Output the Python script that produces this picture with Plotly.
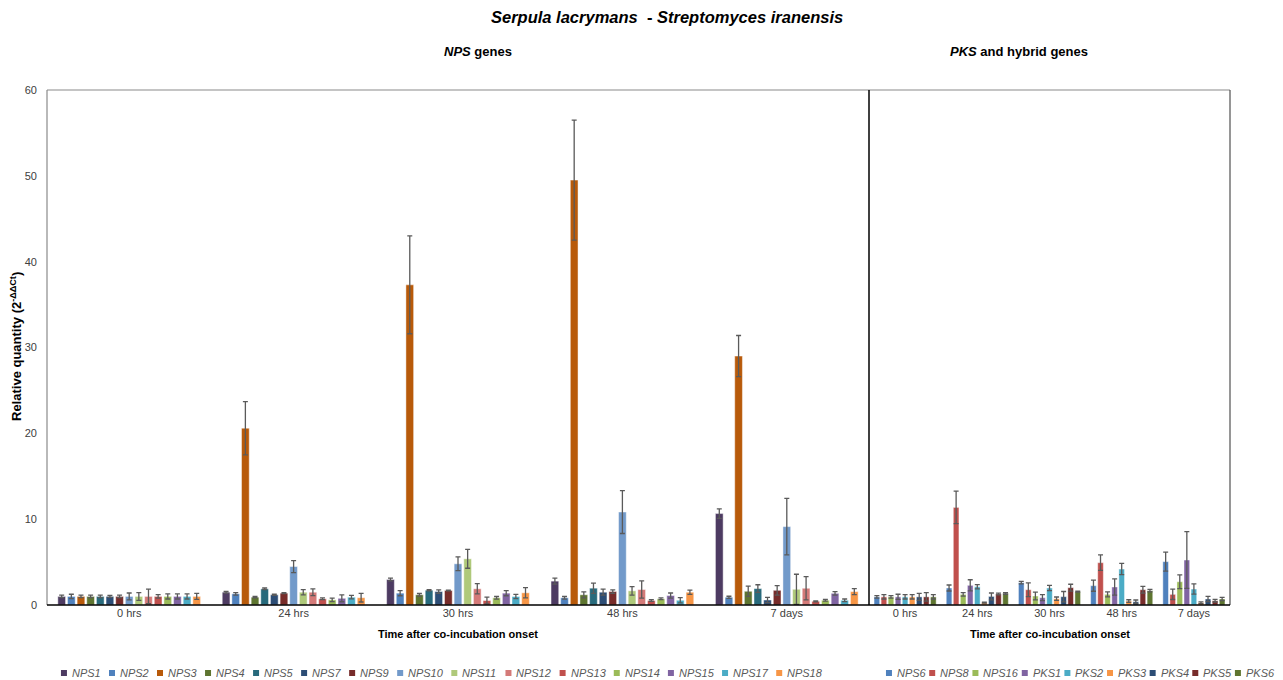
import plotly.graph_objects as go

# ---------------- data ----------------
times = ["0 hrs", "24 hrs", "30 hrs", "48 hrs", "7 days"]

nps_names = ["NPS1", "NPS2", "NPS3", "NPS4", "NPS5", "NPS7", "NPS9", "NPS10",
             "NPS11", "NPS12", "NPS13", "NPS14", "NPS15", "NPS17", "NPS18"]
nps_colors = ["#4D3B62", "#4F81BD", "#B85A0A", "#5E7530", "#276A7C", "#2C4D75",
              "#772C2A", "#729ACA", "#AFC97A", "#D47A78", "#C0504D", "#9BBB59",
              "#8064A2", "#4BACC6", "#F79646"]
nps_values = [
    [1.0, 1.49, 2.97, 2.78, 10.65],
    [1.0, 1.30, 1.38, 0.84, 0.90],
    [1.0, 20.6, 37.3, 49.5, 29.0],
    [1.0, 0.91, 1.19, 1.19, 1.60],
    [1.0, 1.88, 1.72, 1.96, 1.91],
    [1.0, 1.19, 1.57, 1.49, 0.58],
    [1.0, 1.38, 1.69, 1.57, 1.71],
    [1.0, 4.48, 4.80, 10.83, 9.13],
    [1.0, 1.49, 5.38, 1.65, 1.83],
    [1.0, 1.49, 1.89, 1.80, 1.95],
    [1.0, 0.72, 0.52, 0.52, 0.43],
    [1.0, 0.60, 0.84, 0.72, 0.55],
    [1.0, 0.78, 1.38, 1.10, 1.36],
    [1.0, 0.91, 0.99, 0.55, 0.55],
    [1.0, 0.85, 1.42, 1.49, 1.56],
]
nps_errors = [
    [0.15, 0.10, 0.17, 0.35, 0.55],
    [0.25, 0.15, 0.30, 0.15, 0.12],
    [0.15, 3.10, 5.70, 7.00, 2.40],
    [0.15, 0.08, 0.15, 0.35, 0.60],
    [0.15, 0.10, 0.08, 0.60, 0.45],
    [0.12, 0.06, 0.20, 0.35, 0.30],
    [0.15, 0.05, 0.05, 0.20, 0.55],
    [0.40, 0.70, 0.80, 2.50, 3.30],
    [0.45, 0.30, 1.10, 0.50, 1.75],
    [0.85, 0.40, 0.60, 1.00, 1.35],
    [0.20, 0.10, 0.40, 0.10, 0.05],
    [0.30, 0.20, 0.15, 0.10, 0.10],
    [0.30, 0.40, 0.30, 0.30, 0.20],
    [0.30, 0.20, 0.25, 0.30, 0.15],
    [0.35, 0.50, 0.60, 0.25, 0.35],
]

pks_names = ["NPS6", "NPS8", "NPS16", "PKS1", "PKS2", "PKS3", "PKS4", "PKS5", "PKS6"]
pks_colors = ["#4F81BD", "#C0504D", "#9BBB59", "#8064A2", "#4BACC6", "#F79646",
              "#2C4D75", "#772C2A", "#5E7530"]
pks_values = [
    [0.95, 1.98, 2.60, 2.25, 5.05],
    [0.95, 11.37, 1.78, 4.93, 1.24],
    [0.95, 1.24, 1.05, 1.24, 2.71],
    [0.95, 2.29, 0.85, 2.10, 5.24],
    [0.95, 2.13, 1.98, 4.19, 1.86],
    [0.95, 0.27, 0.73, 0.46, 0.27],
    [0.95, 1.00, 0.97, 0.38, 0.70],
    [0.95, 1.28, 2.02, 1.78, 0.50],
    [0.95, 1.35, 1.55, 1.67, 0.70],
]
pks_errors = [
    [0.15, 0.35, 0.15, 0.65, 1.10],
    [0.25, 1.90, 0.80, 0.90, 0.60],
    [0.15, 0.20, 0.45, 0.30, 0.80],
    [0.30, 0.65, 0.35, 0.95, 3.30],
    [0.25, 0.25, 0.30, 0.65, 0.60],
    [0.25, 0.05, 0.20, 0.15, 0.10],
    [0.40, 0.40, 0.60, 0.20, 0.30],
    [0.50, 0.10, 0.40, 0.40, 0.15],
    [0.25, 0.10, 0.05, 0.15, 0.20],
]

# ---------------- layout geometry (pixels) ----------------
W, H = 1283, 680
L, R, T, B = 47, 1230, 90, 605
DIV_PX = 869
FONT = "Liberation Sans, Arial, sans-serif"


def px2x(px):
    return (px - L) / (R - L)


def py2y(py):
    return (B - py) / (B - T)


div = px2x(DIV_PX)

fig = go.Figure()

err_style = dict(type="data", visible=True, color="#5a5a5a", thickness=1.3, width=2.5)
bar_line = dict(color="rgba(255,255,255,0.45)", width=1)

for name, color, vals, errs in zip(nps_names, nps_colors, nps_values, nps_errors):
    fig.add_trace(go.Bar(
        x=times, y=vals, name=name, xaxis="x", yaxis="y",
        marker=dict(color=color, line=bar_line),
        error_y=dict(array=errs, **err_style), showlegend=False))

for name, color, vals, errs in zip(pks_names, pks_colors, pks_values, pks_errors):
    fig.add_trace(go.Bar(
        x=times, y=vals, name=name, xaxis="x2", yaxis="y",
        marker=dict(color=color, line=bar_line),
        error_y=dict(array=errs, **err_style), showlegend=False))

axis_common = dict(showgrid=False, zeroline=False, showline=False, ticks="",
                   tickfont=dict(family=FONT, size=11, color="#404040"),
                   type="category", categoryorder="array", categoryarray=times)

fig.update_layout(
    width=W, height=H,
    margin=dict(l=L, r=W - R, t=T, b=H - B, pad=0),
    barmode="group", bargap=0.12, bargroupgap=0.2,
    plot_bgcolor="white", paper_bgcolor="white",
    font=dict(family=FONT, size=11, color="#404040"),
    xaxis=dict(domain=[0, div], anchor="y", **axis_common),
    xaxis2=dict(domain=[div, 1], anchor="y", **axis_common),
    yaxis=dict(range=[0, 60], dtick=10, showgrid=False, zeroline=False,
               showline=False, ticks="", ticklabelstandoff=9,
               tickfont=dict(family=FONT, size=11, color="#404040")),
    showlegend=False,
)

shapes = [
    dict(type="line", xref="paper", yref="paper", x0=0, x1=1, y0=1, y1=1,
         line=dict(color="#8a8a8a", width=1.2)),
    dict(type="line", xref="paper", yref="paper", x0=0, x1=0, y0=0, y1=1,
         line=dict(color="#8a8a8a", width=1.2)),
    dict(type="line", xref="paper", yref="paper", x0=1, x1=1, y0=0, y1=1,
         line=dict(color="#505050", width=1.2)),
    dict(type="line", xref="paper", yref="paper", x0=div, x1=div, y0=0, y1=1,
         line=dict(color="#000000", width=1.5)),
    dict(type="line", xref="paper", yref="paper", x0=0, x1=1, y0=0, y1=0,
         line=dict(color="#000000", width=1.5)),
]

annotations = [
    dict(text="<b><i>Serpula lacrymans</i>  - <i>Streptomyces iranensis</i></b>",
         x=px2x(667), y=py2y(17), font=dict(family=FONT, size=16.5, color="#000000")),
    dict(text="<b><i>NPS</i> genes</b>",
         x=px2x(478), y=py2y(52), font=dict(family=FONT, size=13, color="#000000")),
    dict(text="<b><i>PKS</i> and hybrid genes</b>",
         x=px2x(1019), y=py2y(52), font=dict(family=FONT, size=13, color="#000000")),
    dict(text="<b>Time after co-incubation onset</b>",
         x=div / 2, y=py2y(634), font=dict(family=FONT, size=11, color="#000000")),
    dict(text="<b>Time after co-incubation onset</b>",
         x=(div + 1) / 2, y=py2y(634), font=dict(family=FONT, size=11, color="#000000")),
    dict(text="<b>Relative quantity (2<sup>-ΔΔCt</sup>)</b>", textangle=-90,
         x=px2x(16), y=py2y(347), font=dict(family=FONT, size=13, color="#000000")),
]
for a in annotations:
    a.update(xref="paper", yref="paper", showarrow=False, xanchor="center", yanchor="middle")

# ---------------- manual legends ----------------
CHAR_W = {"N": 0.722, "P": 0.667, "S": 0.667, "K": 0.667}
LEG_FS = 11


def text_w(s):
    return sum(CHAR_W.get(c, 0.556) for c in s) * LEG_FS


def add_legend(names, colors, center_px, gap1, gap2, y_px):
    sq = 6
    widths = [sq + gap1 + text_w(n) for n in names]
    total = sum(widths) + gap2 * (len(names) - 1)
    x = center_px - total / 2
    for n, c, w in zip(names, colors, widths):
        shapes.append(dict(type="rect", xref="paper", yref="paper",
                           x0=px2x(x), x1=px2x(x + sq),
                           y0=py2y(y_px + sq / 2), y1=py2y(y_px - sq / 2),
                           fillcolor=c, line=dict(width=0)))
        annotations.append(dict(text="<i>%s</i>" % n, xref="paper", yref="paper",
                                x=px2x(x + sq + gap1), y=py2y(y_px),
                                xanchor="left", yanchor="middle", showarrow=False,
                                font=dict(family=FONT, size=LEG_FS, color="#595959")))
        x += w + gap2


add_legend(nps_names, nps_colors, 440.5, 3, 10.3, 673)
add_legend(pks_names, pks_colors, 1079, 3, 5.5, 673)

fig.update_layout(shapes=shapes, annotations=annotations)

fig.write_html("out.html", include_plotlyjs=True, config={"displayModeBar": False},
               post_script="document.body.style.margin='0';document.body.style.overflow='hidden';")
